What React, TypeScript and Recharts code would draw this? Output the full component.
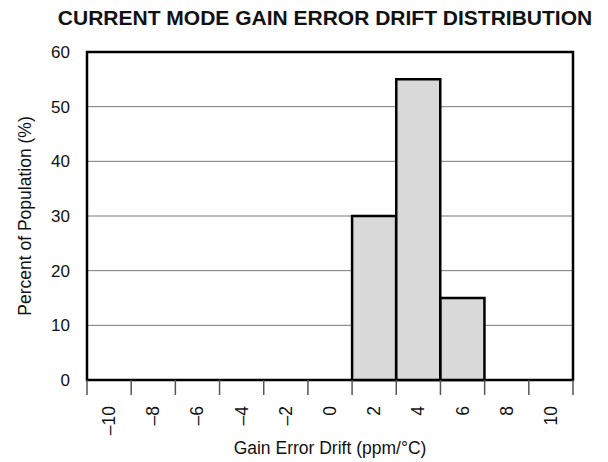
import React from "react";
import {
  BarChart,
  Bar,
  XAxis,
  YAxis,
  CartesianGrid,
  ReferenceArea,
} from "recharts";

const categories = ["–10", "–8", "–6", "–4", "–2", "0", "2", "4", "6", "8", "10"];
const percentValues = [0, 0, 0, 0, 0, 0, 30, 55, 15, 0, 0];
const yTicks = [0, 10, 20, 30, 40, 50, 60];

const title = "CURRENT MODE GAIN ERROR DRIFT DISTRIBUTION";
const xLabel = "Gain Error Drift (ppm/°C)";
const yLabel = "Percent of Population (%)";

const data = categories.map((c, i) => ({ bin: c, pct: percentValues[i] }));

const FONT = "'Liberation Sans', Arial, Helvetica, sans-serif";

const BandTick = (props: any) => {
  const { x, y, payload, index, visibleTicksCount } = props;
  const half = payload && payload.offset ? payload.offset : 486 / 22;
  const isLast = index === (visibleTicksCount ? visibleTicksCount - 1 : categories.length - 1);
  return (
    <g>
      <line x1={x - half} x2={x - half} y1={y} y2={y + 15} stroke="#555" strokeWidth={1.5} />
      {isLast && (
        <line x1={x + half} x2={x + half} y1={y} y2={y + 15} stroke="#555" strokeWidth={1.5} />
      )}
      <text
        x={x}
        y={y + 26}
        transform={`rotate(-90, ${x}, ${y + 26})`}
        textAnchor="end"
        dominantBaseline="central"
        fontSize={17.5}
        fontFamily={FONT}
        fill="#111"
      >
        {payload.value}
      </text>
    </g>
  );
};

export default function App() {
  return (
    <div style={{ position: "absolute", left: 0, top: 0, width: 608, height: 462, background: "#fff" }}>
      <BarChart
        width={608}
        height={462}
        data={data}
        margin={{ top: 52, right: 35, bottom: 22, left: 27 }}
        barCategoryGap={0}
        barGap={0}
      >
        <text
          x={325}
          y={25}
          textAnchor="middle"
          fontSize={21}
          fontWeight="bold"
          fontFamily={FONT}
          fill="#111"
        >
          {title}
        </text>
        <CartesianGrid vertical={false} stroke="#777" strokeWidth={1} />
        <XAxis
          dataKey="bin"
          interval={0}
          tickLine={false}
          tickSize={0}
          tickMargin={0}
          height={60}
          axisLine={false}
          tick={<BandTick />}
        />
        <YAxis
          domain={[0, 60]}
          ticks={yTicks}
          width={60}
          tickLine={false}
          tickMargin={11}
          axisLine={false}
          tick={{ fontSize: 17, fontFamily: FONT, fill: "#111" }}
        />
        <Bar dataKey="pct" fill="#d9d9d9" stroke="#000" strokeWidth={2.5} isAnimationActive={false} />
        <ReferenceArea
          x1="–10"
          x2="10"
          y1={0}
          y2={60}
          fill="none"
          fillOpacity={0}
          stroke="#000"
          strokeWidth={2.5}
          strokeOpacity={1}
          ifOverflow="visible"
        />
        <text
          x={25}
          y={216}
          transform="rotate(-90, 25, 216)"
          textAnchor="middle"
          dominantBaseline="central"
          fontSize={17.5}
          fontFamily={FONT}
          fill="#111"
        >
          {yLabel}
        </text>
        <text
          x={330}
          y={448}
          textAnchor="middle"
          dominantBaseline="central"
          fontSize={17.5}
          fontFamily={FONT}
          fill="#111"
        >
          {xLabel}
        </text>
      </BarChart>
    </div>
  );
}
